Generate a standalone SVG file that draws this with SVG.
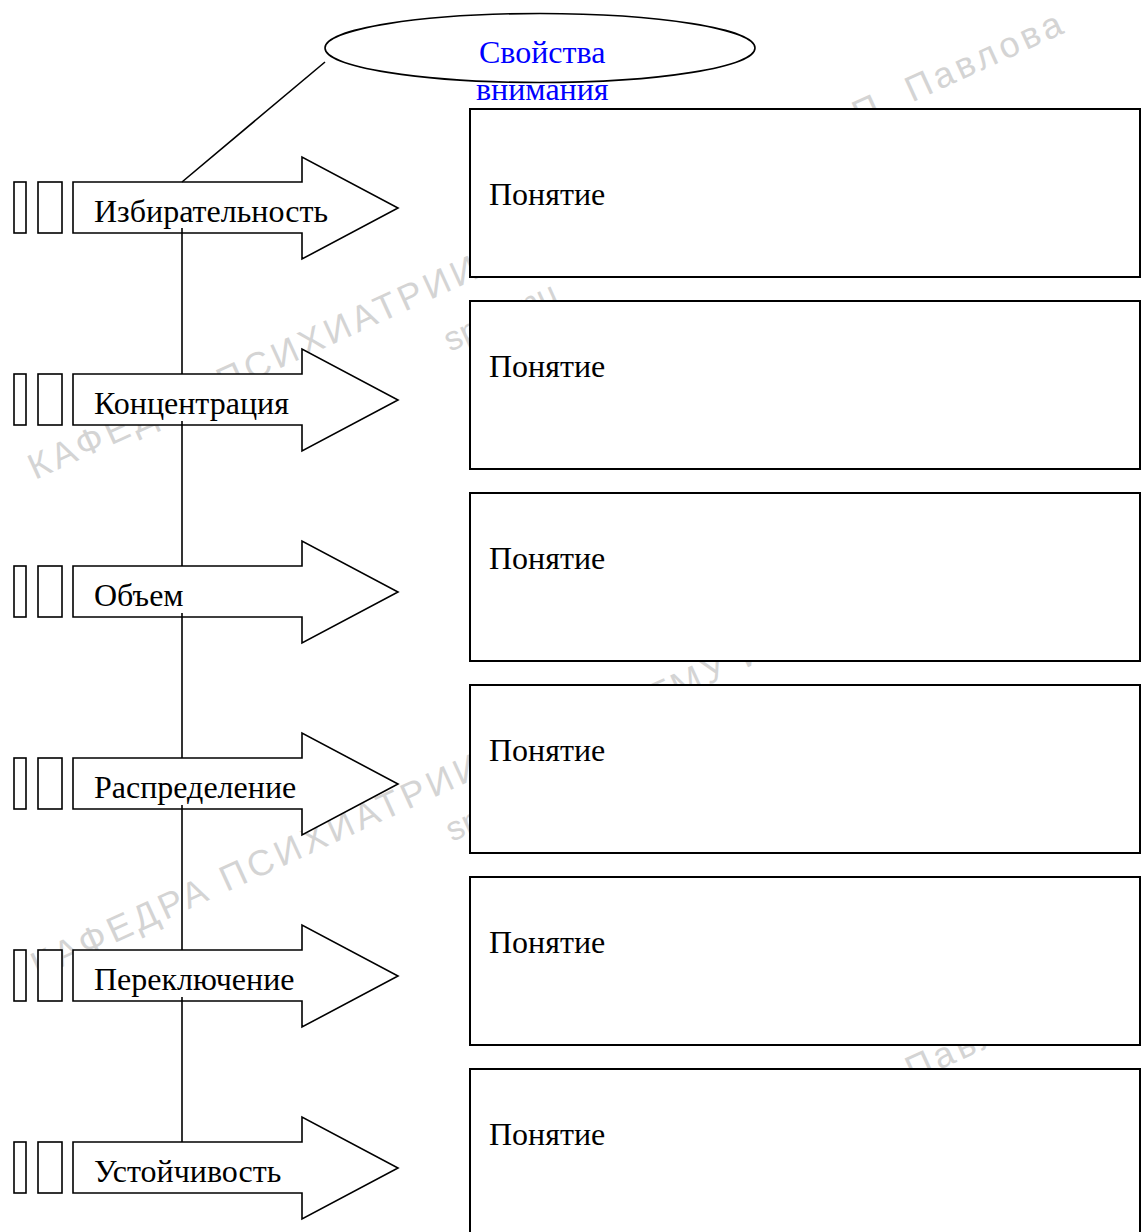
<svg xmlns="http://www.w3.org/2000/svg" width="1141" height="1232" viewBox="0 0 1141 1232">
<style>
.wm{font-family:"Liberation Sans","DejaVu Sans",sans-serif;font-size:36px;letter-spacing:4px;fill:#d4d4d4}
.wm2{font-family:"Liberation Sans","DejaVu Sans",sans-serif;font-size:34px;fill:#d4d4d4}
.shape{fill:#ffffff;stroke:#000000;stroke-width:1.6}
.box{fill:#ffffff;stroke:#000000;stroke-width:2}
.lbl{font-family:"Liberation Serif","Times New Roman",serif;font-size:32px;fill:#000000}
.title{font-family:"Liberation Serif","Times New Roman",serif;font-size:32px;fill:#0000ff}
.conn{stroke:#000000;stroke-width:1.6;fill:none}
</style>
<rect x="0" y="0" width="1141" height="1232" fill="#ffffff"/>
<g id="watermark">
<text class="wm" transform="translate(35,480) rotate(-24.5)">КАФЕДРА ПСИХИАТРИИ</text>
<text class="wm" transform="translate(553,266) rotate(-24.5)">ПСПбГМУ им. И.П. Павлова</text>
<text class="wm2" transform="translate(450,352) rotate(-24.5)">spbgmu</text>
<text class="wm" transform="translate(38,978) rotate(-24.5)">КАФЕДРА ПСИХИАТРИИ</text>
<text class="wm" transform="translate(553,756) rotate(-24.5)">ПСПбГМУ им. И.П. Павлова</text>
<text class="wm2" transform="translate(452,842) rotate(-24.5)">spbgmu</text>
<text class="wm" transform="translate(746,1158) rotate(-24.5)">им. И.П. Павлова</text>
</g>
<g id="box1"><rect class="box" x="470" y="109" width="670" height="168"/><text class="lbl" x="489" y="205">Понятие</text></g>
<g id="box2"><rect class="box" x="470" y="301" width="670" height="168"/><text class="lbl" x="489" y="377">Понятие</text></g>
<g id="box3"><rect class="box" x="470" y="493" width="670" height="168"/><text class="lbl" x="489" y="569">Понятие</text></g>
<g id="box4"><rect class="box" x="470" y="685" width="670" height="168"/><text class="lbl" x="489" y="761">Понятие</text></g>
<g id="box5"><rect class="box" x="470" y="877" width="670" height="168"/><text class="lbl" x="489" y="953">Понятие</text></g>
<g id="box6"><rect class="box" x="470" y="1069" width="670" height="180"/><text class="lbl" x="489" y="1145">Понятие</text></g>
<g id="arrow1">
<rect class="shape" x="14" y="182" width="12" height="51"/><rect class="shape" x="38" y="182" width="24" height="51"/>
<path class="shape" d="M73,182 H302 V157 L398,208 L302,259 V233 H73 Z"/>
<text class="lbl" x="94" y="222">Избирательность</text>
</g>
<g id="arrow2">
<rect class="shape" x="14" y="374" width="12" height="51"/><rect class="shape" x="38" y="374" width="24" height="51"/>
<path class="shape" d="M73,374 H302 V349 L398,400 L302,451 V425 H73 Z"/>
<text class="lbl" x="94" y="414">Концентрация</text>
</g>
<g id="arrow3">
<rect class="shape" x="14" y="566" width="12" height="51"/><rect class="shape" x="38" y="566" width="24" height="51"/>
<path class="shape" d="M73,566 H302 V541 L398,592 L302,643 V617 H73 Z"/>
<text class="lbl" x="94" y="606">Объем</text>
</g>
<g id="arrow4">
<rect class="shape" x="14" y="758" width="12" height="51"/><rect class="shape" x="38" y="758" width="24" height="51"/>
<path class="shape" d="M73,758 H302 V733 L398,784 L302,835 V809 H73 Z"/>
<text class="lbl" x="94" y="798">Распределение</text>
</g>
<g id="arrow5">
<rect class="shape" x="14" y="950" width="12" height="51"/><rect class="shape" x="38" y="950" width="24" height="51"/>
<path class="shape" d="M73,950 H302 V925 L398,976 L302,1027 V1001 H73 Z"/>
<text class="lbl" x="94" y="990">Переключение</text>
</g>
<g id="arrow6">
<rect class="shape" x="14" y="1142" width="12" height="51"/><rect class="shape" x="38" y="1142" width="24" height="51"/>
<path class="shape" d="M73,1142 H302 V1117 L398,1168 L302,1219 V1193 H73 Z"/>
<text class="lbl" x="94" y="1182">Устойчивость</text>
</g>
<g id="connectors">
<line class="conn" x1="325" y1="62" x2="182" y2="182"/>
<line class="conn" x1="182" y1="228" x2="182" y2="374"/>
<line class="conn" x1="182" y1="421" x2="182" y2="566"/>
<line class="conn" x1="182" y1="613" x2="182" y2="758"/>
<line class="conn" x1="182" y1="805" x2="182" y2="950"/>
<line class="conn" x1="182" y1="997" x2="182" y2="1142"/>
</g>
<g id="title">
<ellipse cx="540" cy="48" rx="215" ry="34.5" fill="none" stroke="#000000" stroke-width="1.6"/>
<text class="title" x="479" y="63">Свойства</text>
<text class="title" x="476" y="100">внимания</text>
</g>
</svg>
